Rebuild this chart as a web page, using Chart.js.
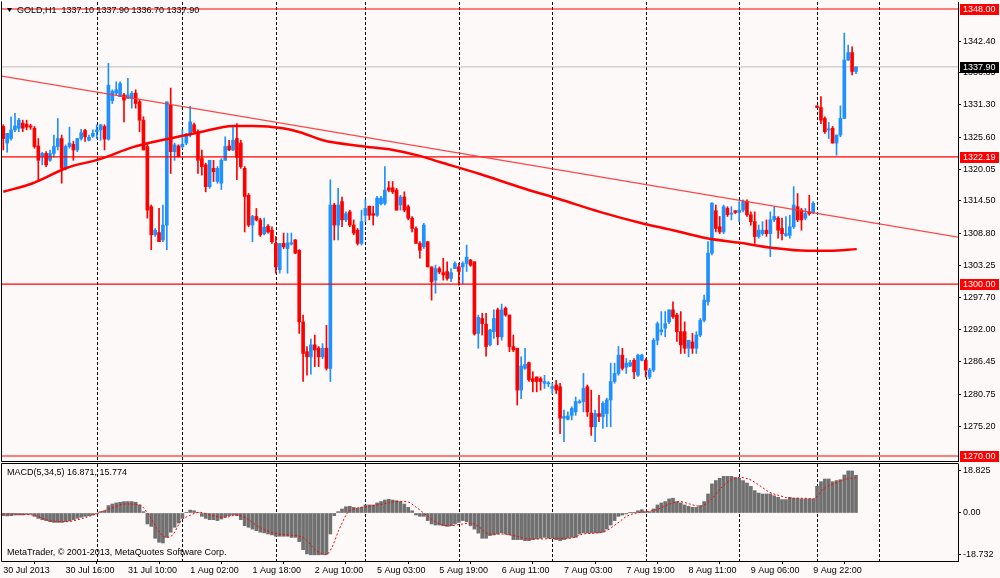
<!DOCTYPE html>
<html>
<head>
<meta charset="utf-8"/>
<title>GOLD,H1</title>
<script src="https://cdn.jsdelivr.net/npm/chart.js@4.4.0/dist/chart.umd.min.js"></script>
<style>
    body { margin: 0; background: #fdf9f9; }
    #wrap { position: relative; width: 1000px; height: 578px; }
    canvas { position: absolute; left: 0; }
</style>
</head>
<body>
<div id="wrap">
    <canvas id="mainChart" width="1000" height="463" style="top:0"></canvas>
    <canvas id="macdChart" width="1000" height="115" style="top:463px"></canvas>
</div>

<script>
// ---- H1 candles, 30 Jul 2013 .. 12 Aug 2013 ----
var opens = [
 1327.5,1324.6,1325.4,1326.9,1327.2,1328.1,1327.9,1327.6,1327.2,1324.1,
 1322.2,1322.8,1321.6,1322.8,1324.0,1325.4,1320.2,1324.0,1324.4,1323.4,
 1325.4,1326.8,1325.1,1325.8,1326.6,1326.9,1327.5,1325.3,1332.0,1333.3,
 1332.7,1333.0,1332.4,1332.4,1333.3,1331.8,1328.6,1324.0,1313.5,1308.6,
 1309.0,1307.7,1310.3,1331.2,1323.1,1324.1,1324.0,1324.6,1326.0,1327.8,
 1326.6,1321.9,1320.8,
 1317.0,1320.2,1317.9,1317.6,1321.6,1324.1,1323.4,1325.4,1324.6,1320.2,
 1315.5,1310.3,1311.8,1311.2,1308.8,1310.1,1309.4,1307.1,1302.5,1307.1,
 1306.2,1307.0,1307.7,1305.9,1293.4,1288.2,1287.3,1289.4,1288.8,1287.3,
 1288.8,1285.3,1313.8,1310.3,1314.4,1311.2,1312.6,1310.3,1309.4,1307.1,
 1312.0,1313.6,1312.3,1312.0,1314.0,1314.1,1316.8,1316.8,1316.4,1313.8,
 1315.2,1313.5,1311.5,1309.7,1307.1,1306.5,1307.4,1303.0,1300.7,1302.7,
 1302.0,1302.2,1301.0,1302.7,1303.0,1303.0,1303.6,1304.2,1303.9,1291.4,
 1294.0,1293.0,1289.4,1291.7,1295.5,1290.8,1295.8,1294.6,1289.1,1288.8,
 1281.5,1285.3,1286.3,1283.5,1283.8,1283.5,1282.7,1282.6,1281.8,1282.4,
 1282.1,1276.6,1276.4,1277.1,1277.7,1279.3,1279.5,1282.1,1277.5,1275.1,
 1277.4,1276.9,1277.4,1279.8,1283.0,1284.4,1287.6,1285.5,1285.7,1286.7,
 1284.1,1286.7,1286.7,1283.8,
 1285.0,1290.2,1291.7,1292.3,1293.4,1295.5,1294.6,1291.7,1291.7,1288.8,
 1289.9,1288.8,1291.1,1293.7,1296.9,1305.4,1312.8,1310.0,1309.1,1313.2,
 1312.2,1312.8,1312.5,1312.9,1314.4,1312.1,1310.9,1308.3,1308.8,1309.4,
 1308.8,1311.2,1311.5,1309.7,1308.5,1308.5,1310.0,1313.5,1312.9,1311.5,
 1312.6,1312.5,1331.1,1330.8,1328.9,1326.9,1327.2,1324.6,1326.0,1328.9,
 1339.1,1340.4,1337.1
];
var highs = [
 1327.8,1326.3,1329.2,1329.8,1328.9,1328.6,1328.6,1327.9,1327.5,1325.4,
 1323.0,1323.1,1323.4,1326.0,1328.9,1326.0,1324.3,1327.4,1324.9,1325.4,
 1327.0,1327.0,1326.0,1326.9,1327.8,1327.8,1327.8,1338.5,1333.9,1335.3,
 1335.3,1333.3,1335.9,1333.6,1333.9,1332.1,1329.2,1324.6,1313.8,1309.7,
 1313.2,1313.8,1331.8,1334.2,1324.6,1324.3,1326.9,1326.3,1331.0,1328.1,
 1326.9,1323.4,1321.1,
 1321.6,1321.6,1320.5,1321.9,1325.7,1325.1,1327.5,1328.0,1325.1,1320.5,
 1315.8,1312.0,1313.2,1311.5,1311.5,1310.4,1310.0,1308.3,1307.1,1308.9,
 1308.9,1308.9,1307.8,1306.0,1294.6,1289.1,1290.4,1291.1,1289.1,1289.6,
 1292.8,1318.2,1314.1,1316.7,1315.2,1312.6,1312.9,1311.2,1309.7,1312.9,
 1314.7,1313.6,1313.6,1315.3,1315.3,1320.5,1317.9,1317.9,1316.7,1315.5,
 1316.1,1313.8,1311.8,1310.0,1307.4,1310.6,1307.4,1303.0,1303.3,1303.0,
 1304.5,1303.9,1302.7,1303.9,1303.6,1303.9,1306.8,1304.3,1303.9,1294.6,
 1294.9,1294.9,1292.1,1295.5,1295.8,1296.5,1296.0,1294.6,1291.1,1288.8,
 1287.3,1288.8,1286.4,1284.7,1283.8,1283.8,1284.1,1283.0,1282.7,1283.2,
 1282.7,1278.0,1277.7,1278.6,1280.3,1279.8,1284.4,1282.4,1281.5,1278.0,
 1280.6,1279.5,1280.1,1286.2,1286.2,1289.1,1288.8,1287.0,1286.7,1287.0,
 1287.8,1287.8,1287.0,1285.3,
 1290.5,1293.4,1295.2,1295.2,1295.5,1296.9,1294.9,1295.2,1293.4,1290.2,
 1291.4,1291.7,1294.0,1298.1,1307.4,1314.2,1313.8,1311.8,1313.8,1313.5,
 1313.5,1312.8,1314.4,1314.7,1314.7,1312.6,1312.6,1310.3,1310.9,1311.2,
 1312.6,1313.5,1311.8,1311.5,1311.8,1312.0,1317.0,1315.8,1313.2,1313.2,
 1315.5,1314.4,1331.1,1332.7,1329.2,1328.2,1327.5,1326.0,1331.1,1343.8,
 1341.7,1341.4,1337.9
];
var lows = [
 1323.4,1323.0,1325.1,1326.6,1326.6,1326.6,1326.9,1327.0,1323.7,1317.9,
 1320.8,1320.5,1321.4,1322.2,1323.4,1317.6,1319.9,1323.7,1321.6,1323.1,
 1325.1,1324.9,1325.0,1325.6,1325.4,1325.1,1323.4,1325.1,1331.5,1333.0,
 1332.7,1328.3,1332.4,1330.7,1330.7,1326.6,1323.4,1311.5,1306.0,1308.3,
 1307.4,1307.4,1306.0,1319.3,1321.6,1322.2,1323.7,1324.3,1325.7,1326.6,
 1319.3,1319.0,1316.1,
 1316.7,1317.9,1317.6,1316.5,1321.6,1323.3,1323.3,1318.2,1320.2,1309.1,
 1310.0,1307.4,1311.0,1308.3,1308.6,1308.9,1307.1,1301.9,1301.9,1306.2,
 1301.9,1306.8,1305.3,1291.4,1283.0,1284.1,1284.3,1285.6,1285.6,1287.0,
 1285.0,1283.0,1307.7,1307.7,1310.0,1310.9,1310.0,1308.6,1306.8,1306.8,
 1310.9,1311.2,1310.3,1311.8,1313.8,1313.8,1316.1,1315.8,1312.9,1312.9,
 1312.6,1311.2,1309.1,1307.1,1304.5,1306.2,1303.0,1297.2,1298.4,1301.8,
 1300.7,1300.7,1300.4,1302.7,1299.8,1300.1,1302.2,1303.1,1291.1,1288.8,
 1291.1,1287.4,1289.2,1290.5,1289.4,1290.2,1294.4,1288.2,1288.2,1278.9,
 1280.0,1285.1,1283.0,1281.2,1281.2,1281.5,1281.8,1282.1,1280.9,1280.9,
 1273.9,1272.5,1276.3,1276.3,1277.1,1279.2,1277.7,1276.9,1273.6,1272.5,
 1276.0,1274.8,1275.1,1275.1,1282.7,1284.1,1285.0,1284.4,1285.6,1283.5,
 1283.9,1286.6,1283.8,1283.5,
 1284.7,1289.4,1291.1,1290.8,1293.1,1294.0,1290.0,1287.9,1287.9,1287.3,
 1287.9,1287.9,1290.8,1293.4,1296.3,1305.1,1309.1,1308.8,1308.8,1311.8,
 1311.2,1312.3,1310.9,1312.6,1311.8,1310.3,1307.1,1308.0,1308.5,1308.3,
 1304.8,1310.9,1308.0,1307.7,1308.3,1308.0,1309.7,1310.9,1309.4,1311.2,
 1312.0,1312.3,1330.8,1328.0,1326.3,1325.4,1324.6,1322.5,1325.7,1328.9,
 1339.0,1336.5,1336.7
];
var closes = [
 1325.4,1326.3,1326.9,1327.6,1328.6,1327.2,1327.4,1327.4,1324.0,1321.6,
 1322.8,1320.8,1322.8,1324.0,1325.4,1320.2,1324.0,1324.6,1323.4,1325.4,
 1326.4,1325.7,1325.6,1326.3,1326.9,1327.8,1325.3,1334.7,1333.6,1333.9,
 1335.0,1332.1,1333.0,1333.3,1331.5,1328.6,1323.4,1312.9,1308.6,1309.4,
 1307.4,1310.3,1331.8,1323.1,1324.3,1322.2,1324.4,1326.0,1328.3,1326.6,
 1321.6,1320.5,1317.0,
 1321.6,1319.6,1320.2,1321.6,1324.0,1323.4,1325.1,1322.1,1320.5,1315.3,
 1310.3,1311.8,1311.2,1308.6,1309.9,1309.1,1307.4,1303.0,1307.1,1306.5,
 1307.2,1307.2,1305.4,1293.4,1287.9,1287.3,1289.4,1288.5,1287.3,1288.8,
 1285.3,1313.8,1310.3,1313.8,1311.2,1312.3,1310.3,1308.9,1307.1,1310.9,
 1313.2,1312.0,1312.0,1315.0,1315.0,1316.4,1316.4,1316.1,1312.9,1315.2,
 1312.9,1311.5,1309.7,1307.1,1305.9,1310.3,1303.0,1300.4,1302.7,1302.1,
 1301.6,1301.0,1302.0,1303.6,1302.2,1303.6,1304.7,1303.3,1291.3,1294.2,
 1293.1,1289.1,1292.0,1294.0,1290.8,1295.5,1294.6,1289.1,1288.5,1281.5,
 1285.7,1286.0,1283.3,1283.0,1283.0,1283.0,1283.0,1282.7,1282.1,1281.5,
 1276.6,1276.9,1277.0,1278.3,1279.5,1279.5,1281.8,1277.7,1275.1,1277.4,
 1276.9,1279.2,1279.8,1283.0,1284.4,1287.6,1285.3,1286.2,1286.3,1284.7,
 1287.6,1287.6,1285.0,1285.0,
 1290.2,1293.1,1292.0,1293.1,1295.5,1294.3,1291.7,1289.4,1288.8,1290.2,
 1288.8,1291.1,1293.7,1297.2,1305.4,1314.1,1309.7,1309.1,1313.5,1312.1,
 1312.3,1312.5,1312.9,1314.4,1312.1,1310.9,1308.3,1309.4,1309.4,1308.8,
 1311.2,1311.8,1309.4,1308.8,1308.8,1310.0,1313.8,1311.2,1311.2,1312.3,
 1312.3,1314.1,1330.8,1328.6,1326.6,1326.9,1324.6,1326.0,1328.9,1339.1,
 1340.4,1337.1,1337.9
];

// moving average, sampled along the thick red curve (bar index / price)
var maBars   = [0, 7.6, 16.4, 24.8, 33.3, 42, 50.5, 59, 64.1, 71.8, 76.2, 82.1, 91.6, 100.1,
                106.2, 112.1, 122.4, 132.7, 142.9, 153.2, 163.5, 172, 180.7, 189.2, 197.7, 206.4, 212.3, 219.2];
var maValues = [1316.1, 1317.6, 1320.3, 1321.8, 1323.9, 1325.3, 1326.5, 1327.6, 1327.6, 1327.2, 1326.5, 1325.1, 1324.1, 1323.4,
                1322.5, 1321.3, 1319.2, 1316.9, 1314.8, 1312.6, 1310.7, 1309.4, 1308.0, 1307.2, 1306.3, 1305.8, 1305.8, 1306.1];

// trend line end points
var trendBars   = [-0.33, 245.2];
var trendValues = [1336.3, 1308.2];

var levelLines = [1348.00, 1322.19, 1300.00, 1270.00];
var lastPrice = 1337.90;
var priceTicks = [1342.40, 1336.85, 1331.30, 1325.60, 1320.05, 1314.50, 1308.80, 1303.25,
                  1297.70, 1292.00, 1286.45, 1280.75, 1275.20];

// MACD(5,34,5)
var macdHist = [
 -1.2,-1.3,-1.2,-0.9,-0.9,-0.9,-0.6,-0.6,-1.5,-2.4,
 -3.0,-3.4,-3.9,-4.2,-4.2,-4.2,-3.9,-3.6,-3.0,-2.4,
 -1.9,-1.5,-1.2,-0.9,-0.4,0.6,1.0,3.3,4.0,4.5,
 4.8,5.1,5.1,5.1,4.8,3.6,0.6,-4.9,-6.0,-11.3,
 -13.1,-13.4,-10.9,-8.6,-6.4,-4.5,-2.4,0.3,1.3,1.0,
 0.2,-1.5,-2.4,-3.0,-3.0,-3.4,-2.7,-1.9,-1.2,-0.9,
 -1.2,-3.0,-5.7,-6.4,-7.2,-7.9,-8.6,-8.9,-9.4,-9.8,
 -10.4,-10.4,-10.4,-10.4,-10.9,-10.9,-12.8,-16.4,-18.3,-18.7,
 -18.7,-18.7,-18.6,-18.5,-9.4,-1.2,0.6,1.8,2.8,3.0,
 2.5,2.1,2.5,3.6,3.6,3.6,4.5,5.1,5.8,6.1,
 5.8,5.5,5.1,4.0,2.5,1.0,-0.9,-1.5,-1.5,-3.4,
 -4.9,-5.4,-5.4,-5.7,-6.0,-5.7,-4.9,-4.2,-3.4,-3.9,
 -5.7,-7.2,-9.0,-11.3,-11.3,-10.1,-9.8,-9.4,-8.9,-9.4,
 -9.8,-11.9,-11.9,-11.9,-12.4,-12.4,-11.9,-11.6,-11.3,-10.9,
 -11.3,-11.3,-11.9,-12.4,-11.9,-11.3,-10.9,-10.9,-9.4,-8.9,
 -8.9,-8.9,-8.9,-8.9,-8.6,-7.2,-5.4,-3.4,-1.5,-0.9,
 -0.4,0.3,0.3,1.0,1.5,0.6,0.6,1.8,3.6,4.5,
 5.1,6.3,6.6,5.1,4.5,3.6,3.0,2.5,2.5,3.3,
 5.1,8.5,13.0,14.5,15.5,16.4,16.4,16.4,15.9,15.5,
 14.5,13.4,11.9,10.0,8.9,8.5,8.5,8.5,7.7,7.0,
 6.0,6.0,7.0,6.6,6.6,6.3,6.3,6.3,6.3,11.9,
 14.0,15.2,15.2,14.0,14.5,14.9,17.0,18.825,18.8,16.871
];
var signalBars = [0, 7.5, 11.8, 16.1, 20.4, 23.8, 27.2, 31.5, 35, 37.5, 40.1, 41.8, 43.5, 45.7, 47.8, 50.4,
                  53.8, 57.2, 59.8, 62.4, 65.8, 69.2, 72.7, 76.9, 80.4, 82.9, 84.2, 86.3, 88.5, 90.6, 94.1,
                  97.5, 100.9, 103.5, 106.1, 108.6, 111.2, 114.6, 118.1, 120.2, 122.3, 124.9, 128.3, 131.8,
                  135.2, 138.6, 142.1, 145.5, 148.9, 152.4, 154.9, 157.5, 160.1, 162.6, 165.2, 167.8, 171.2,
                  173.8, 176.3, 178.9, 181.5, 184.1, 186.6, 189.2, 191.8, 194.3, 196.9, 199.5, 202.1, 205.5,
                  208.1, 210.6, 214.1, 216.6, 219];
var signalValues = [-0.4, -0.9, -3.4, -3.9, -2.4, -0.4, 1.8, 4.0, 3.6, -1.2, -8.6, -10.9, -9.8, -3.4, -1.2, 0.3,
                    -1.2, -1.9, -0.9, -2.4, -6.4, -8.9, -9.8, -10.9, -16.8, -18.6, -16.1, -7.2, 0.3, 2.1, 3.0,
                    4.0, 5.1, 5.1, 2.5, -0.9, -4.2, -5.7, -4.9, -4.5, -6.4, -9.4, -9.4, -10.4,
                    -11.6, -11.6, -11.3, -11.3, -9.4, -8.9, -7.9, -4.9, -1.5, 0.0, 0.6, 1.5, 4.0,
                    5.1, 4.0, 3.0, 5.5, 10.7, 14.5, 15.9, 14.9, 12.2, 9.2, 7.7, 6.6, 6.6,
                    6.3, 10.7, 13.7, 15.2, 15.774];
var macdTicks = [18.825, 0, -18.732];
var macdTickText = ['18.825', '0.00', '-18.732'];

// time axis
var labelBars = [0, 16, 32, 48, 64, 80, 96, 112, 128, 144, 160, 176, 192, 208];
var timeLabels = ['30 Jul 2013', '30 Jul 16:00', '31 Jul 10:00', '1 Aug 02:00', '1 Aug 18:00', '2 Aug 10:00',
                  '5 Aug 03:00', '5 Aug 19:00', '6 Aug 11:00', '7 Aug 03:00', '7 Aug 19:00', '8 Aug 11:00',
                  '9 Aug 06:00', '9 Aug 22:00'];
var daySeps = [24, 46, 70, 93, 117, 141, 165, 189, 209, 225];

var FONT = '"Liberation Sans", Arial, sans-serif';
var BG = '#fdf9f9';
var xMin = -0.33, xMax = 245.2;

var UP = 'rgb(30,144,255)', DOWN = 'rgb(255,0,0)';
function candleColor(i) { return closes[i] >= opens[i] ? UP : DOWN; }

var idx = closes.map(function (c, i) { return i; });

function flatLine(v) {
    return [{x: xMin, y: v}, {x: xMax, y: v}];
}

function noPad(s) {
    s.paddingTop = 0; s.paddingBottom = 0; s.paddingLeft = 0; s.paddingRight = 0;
}

// draws the dashed day separators and the frame
function paneDecor(sides) {
    return {
        id: 'paneDecor',
        beforeDraw: function (chart) {
            var c = chart.ctx;
            c.save();
            c.fillStyle = BG;
            c.fillRect(0, 0, chart.width, chart.height);
            c.restore();
        },
        beforeDatasetsDraw: function (chart) {
            var c = chart.ctx, a = chart.chartArea, xs = chart.scales.x;
            c.save();
            c.strokeStyle = '#000';
            c.lineWidth = 1;
            c.setLineDash([3, 2]);
            daySeps.forEach(function (d) {
                var px = Math.round(xs.getPixelForValue(d)) + 0.5;
                c.beginPath();
                c.moveTo(px, a.top);
                c.lineTo(px, a.bottom);
                c.stroke();
            });
            c.restore();
        },
        afterDraw: function (chart) {
            var c = chart.ctx, a = chart.chartArea;
            c.save();
            c.strokeStyle = '#000';
            c.lineWidth = 1;
            c.beginPath();
            var l = Math.round(a.left) - 0.5, r = Math.round(a.right) + 0.5;
            var t = Math.round(a.top) - 0.5, b = Math.round(a.bottom) + 0.5;
            if (sides.indexOf('l') >= 0) { c.moveTo(l, t); c.lineTo(l, b); }
            if (sides.indexOf('t') >= 0) { c.moveTo(l, t); c.lineTo(r, t); }
            if (sides.indexOf('b') >= 0) { c.moveTo(l, b); c.lineTo(r, b); }
            c.stroke();
            c.restore();
        }
    };
}

function priceBox(c, y, text, fill) {
    c.fillStyle = fill;
    c.fillRect(960, Math.round(y) - 5, 39, 11);
    c.fillStyle = '#fff';
    c.textAlign = 'left';
    c.textBaseline = 'middle';
    c.fillText(text, 963, Math.round(y) + 0.5);
}

var mainLabels = {
    id: 'mainLabels',
    afterDraw: function (chart) {
        var c = chart.ctx, ys = chart.scales.y;
        c.save();
        c.font = '9px ' + FONT;
        levelLines.forEach(function (v) {
            priceBox(c, ys.getPixelForValue(v), v.toFixed(2), '#ff0000');
        });
        priceBox(c, ys.getPixelForValue(lastPrice), lastPrice.toFixed(2), '#000');

        // symbol header: last bar O H L C
        var n = closes.length - 1;
        c.fillStyle = '#000';
        c.beginPath();
        c.moveTo(7, 8); c.lineTo(12, 8); c.lineTo(9.5, 12); c.closePath();
        c.fill();
        c.textAlign = 'left';
        c.textBaseline = 'middle';
        c.fillText('GOLD,H1  ' + [opens[n], highs[n], lows[n], closes[n]]
            .map(function (v) { return v.toFixed(2); }).join(' '), 17, 11);
        c.restore();
    }
};

var macdLabels = {
    id: 'macdLabels',
    afterDraw: function (chart) {
        var c = chart.ctx;
        c.save();
        c.font = '9px ' + FONT;
        c.fillStyle = '#000';
        c.textAlign = 'left';
        c.textBaseline = 'middle';
        c.fillText('MACD(5,34,5) ' + macdHist[macdHist.length - 1].toFixed(3) + ', ' +
            signalValues[signalValues.length - 1].toFixed(3), 7, 10);
        c.fillText('MetaTrader, \u00a9 2001-2013, MetaQuotes Software Corp.', 7, 90);
        c.restore();
    }
};

var tickFont = {family: FONT, size: 9};

new Chart(document.getElementById('mainChart'), {
    type: 'bar',
    data: {
        datasets: [
            {
                label: 'wicks',
                data: idx.map(function (i) { return {x: i, y: [lows[i], highs[i]]}; }),
                backgroundColor: function (ctx) { return candleColor(ctx.dataIndex); },
                barThickness: 1, grouped: false, order: 10
            },
            {
                label: 'bodies',
                data: idx.map(function (i) { return {x: i, y: [opens[i], closes[i]]}; }),
                backgroundColor: function (ctx) { return candleColor(ctx.dataIndex); },
                barThickness: 3, minBarLength: 1, grouped: false, order: 9
            },
            {
                type: 'line', label: 'MA',
                data: maBars.map(function (b, k) { return {x: b, y: maValues[k]}; }),
                borderColor: 'rgb(255,0,0)', borderWidth: 2.5, pointRadius: 0,
                cubicInterpolationMode: 'monotone', order: 2
            },
            {
                type: 'line', label: 'trend',
                data: trendBars.map(function (b, k) { return {x: b, y: trendValues[k]}; }),
                borderColor: 'rgba(255,50,50,0.9)', borderWidth: 1.3, pointRadius: 0, order: 3
            },
            {
                type: 'line', label: 'last',
                data: flatLine(lastPrice),
                borderColor: '#bdbdbd', borderWidth: 1, pointRadius: 0, order: 12
            }
        ].concat(levelLines.map(function (v) {
            return {
                type: 'line', label: 'level ' + v, data: flatLine(v),
                borderColor: 'rgb(255,0,0)', borderWidth: 1.2, pointRadius: 0, order: 4
            };
        }))
    },
    options: {
        responsive: false,
        animation: false,
        devicePixelRatio: 1,
        events: [],
        layout: {padding: {left: 2, top: 2, right: 0, bottom: 2}},
        plugins: {legend: {display: false}, tooltip: {enabled: false}},
        scales: {
            x: {type: 'linear', min: xMin, max: xMax, offset: false, display: false},
            y: {
                type: 'linear', position: 'right', min: 1269.13, max: 1349.22,
                afterBuildTicks: function (s) { s.ticks = priceTicks.map(function (v) { return {value: v}; }); },
                afterFit: function (s) { s.width = 42; noPad(s); },
                ticks: {
                    autoSkip: false, padding: 2, color: '#000', font: tickFont,
                    callback: function (v) { return Number(v).toFixed(2); }
                },
                grid: {drawOnChartArea: false, drawTicks: true, tickLength: 3, tickColor: '#000'},
                border: {display: true, color: '#000'}
            }
        }
    },
    plugins: [paneDecor('lb'), mainLabels]
});

new Chart(document.getElementById('macdChart'), {
    type: 'bar',
    data: {
        datasets: [
            {
                label: 'MACD',
                data: idx.map(function (i) { return {x: i, y: macdHist[i]}; }),
                backgroundColor: 'rgb(112,112,112)',
                barThickness: 3, grouped: false, order: 5
            },
            {
                type: 'line', label: 'Signal',
                data: signalBars.map(function (b, k) { return {x: b, y: signalValues[k]}; }),
                borderColor: 'rgb(255,0,0)', borderWidth: 1, borderDash: [2, 2], pointRadius: 0,
                cubicInterpolationMode: 'monotone', order: 1
            }
        ]
    },
    options: {
        responsive: false,
        animation: false,
        devicePixelRatio: 1,
        events: [],
        layout: {padding: {left: 2, top: 1, right: 0, bottom: 0}},
        plugins: {legend: {display: false}, tooltip: {enabled: false}},
        scales: {
            x: {
                type: 'linear', min: xMin, max: xMax, offset: false,
                afterBuildTicks: function (s) { s.ticks = labelBars.map(function (v) { return {value: v}; }); },
                afterFit: function (s) { s.height = 17; noPad(s); },
                ticks: {
                    autoSkip: false, maxRotation: 0, minRotation: 0, align: 'start', padding: 1,
                    color: '#000', font: tickFont,
                    callback: function (v, i) { return timeLabels[i]; }
                },
                grid: {drawOnChartArea: false, drawTicks: true, tickLength: 3, tickColor: '#000'},
                border: {display: true, color: '#000'}
            },
            y: {
                type: 'linear', position: 'right', min: -21.46, max: 21.9,
                afterBuildTicks: function (s) { s.ticks = macdTicks.map(function (v) { return {value: v}; }); },
                afterFit: function (s) { s.width = 42; noPad(s); },
                ticks: {
                    autoSkip: false, padding: 2, color: '#000', font: tickFont,
                    callback: function (v, i) { return macdTickText[i]; }
                },
                grid: {drawOnChartArea: false, drawTicks: true, tickLength: 3, tickColor: '#000'},
                border: {display: true, color: '#000'}
            }
        }
    },
    plugins: [paneDecor('ltb'), macdLabels]
});
</script>
</body>
</html>
